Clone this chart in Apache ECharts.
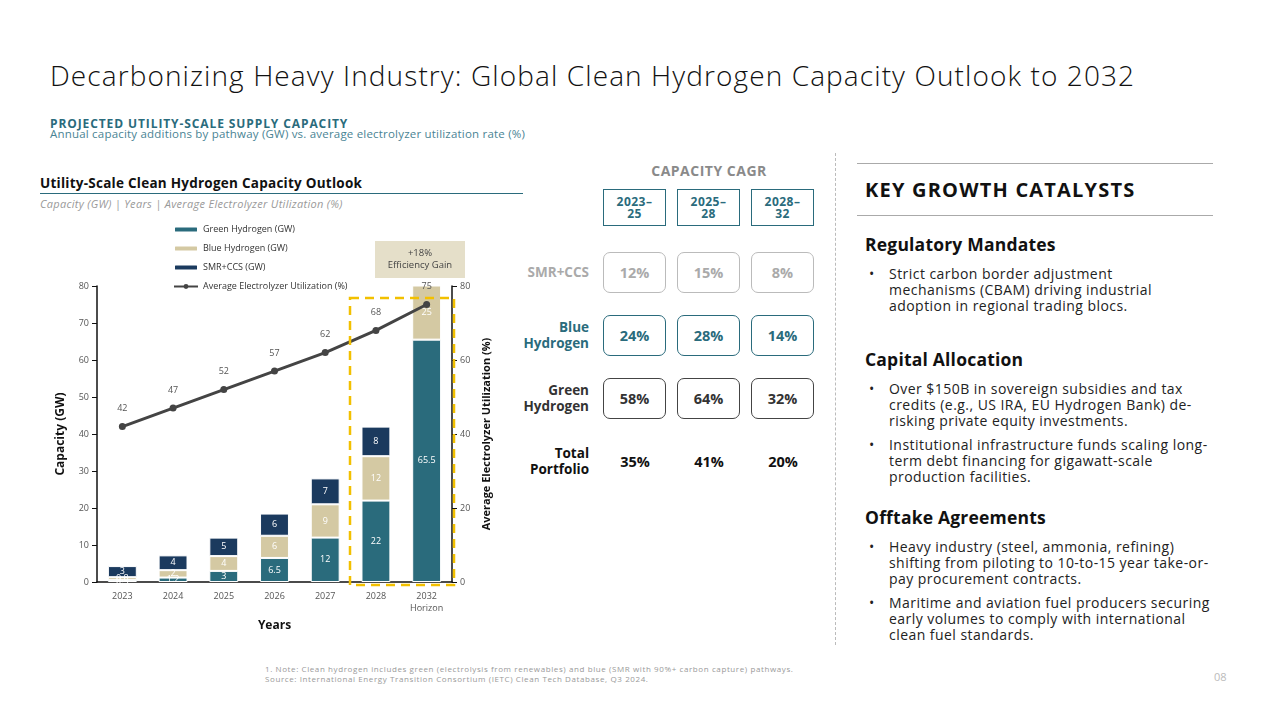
<!DOCTYPE html>
<html>
<head>
<meta charset="utf-8">
<script src="https://cdn.jsdelivr.net/npm/echarts@6/dist/echarts.min.js"></script>
<style>
  body { margin: 0; width: 1280px; height: 720px; background: #fff; font-family: 'Open Sans', Lato, sans-serif; position: relative; overflow: hidden; }
  .abs { position: absolute; white-space: nowrap; }
  #chart { position: absolute; left: 0; top: 0; width: 520px; height: 640px; }
  .hdr { position: absolute; width: 61px; height: 35px; border: 1.5px solid #2a6b7c; color: #2a6b7c; font-weight: 700; font-size: 12px; line-height: 12px; text-align: center; display: flex; align-items: center; justify-content: center; letter-spacing: 0.5px; }
  .cell { position: absolute; width: 61px; height: 39px; border: 1.5px solid; border-radius: 7px; font-weight: 700; font-size: 14.5px; display: flex; align-items: center; justify-content: center; }
  .rowlab { position: absolute; right: 691px; text-align: right; font-weight: 700; font-size: 13.5px; line-height: 16px; white-space: nowrap; }
  .tot { position: absolute; width: 64px; text-align: center; font-weight: 700; font-size: 14.5px; top: 452px; color: #111; }
  .h2 { position: absolute; left: 865px; font-size: 17.5px; font-weight: 700; color: #111; white-space: nowrap; letter-spacing: 0.2px; }
  .bul { position: absolute; left: 869px; font-size: 14px; line-height: 16px; color: #222; white-space: nowrap; letter-spacing: 0.45px; }
  .bul span.dot { position: absolute; left: 0; }
  .bul div { margin-left: 20px; }
</style>
</head>
<body>
<div class="abs" style="left:50px; top:56px; font-size:28px; color:#111; font-weight:300; letter-spacing:1.1px;">Decarbonizing Heavy Industry: Global Clean Hydrogen Capacity Outlook to 2032</div>
<div class="abs" style="left:50px; top:115px; font-size:12px; font-weight:700; color:#2a6b7c; letter-spacing:0.9px;">PROJECTED UTILITY-SCALE SUPPLY CAPACITY</div>
<div class="abs" style="left:50px; top:126px; font-size:11.5px; color:#4a8494; letter-spacing:0.2px;">Annual capacity additions by pathway (GW) vs. average electrolyzer utilization rate (%)</div>

<div class="abs" style="left:40px; top:174px; font-size:13.5px; font-weight:700; color:#111; letter-spacing:0.25px;">Utility-Scale Clean Hydrogen Capacity Outlook</div>
<div class="abs" style="left:40px; top:193px; width:483px; height:1px; background:#2a6b7c;"></div>
<div class="abs" style="left:40px; top:196px; font-size:11px; font-style:italic; color:#999; letter-spacing:0.3px;">Capacity (GW) | Years | Average Electrolyzer Utilization (%)</div>

<div id="chart"></div>

<!-- CAGR table -->
<div class="abs" style="left:609px; width:200px; text-align:center; top:161px; font-size:14px; font-weight:700; color:#8a8a8a; letter-spacing:0.5px;">CAPACITY CAGR</div>
<div class="hdr" style="left:603px; top:189px;">2023–<br>25</div>
<div class="hdr" style="left:677px; top:189px;">2025–<br>28</div>
<div class="hdr" style="left:751px; top:189px;">2028–<br>32</div>

<div class="rowlab" style="top:264px; color:#aaa;">SMR+CCS</div>
<div class="cell" style="left:603px; top:252px; border-color:#bbb; color:#aaa;">12%</div>
<div class="cell" style="left:677px; top:252px; border-color:#bbb; color:#aaa;">15%</div>
<div class="cell" style="left:751px; top:252px; border-color:#bbb; color:#aaa;">8%</div>

<div class="rowlab" style="top:319px; color:#2a6b7c;">Blue<br>Hydrogen</div>
<div class="cell" style="left:603px; top:315px; border-color:#2a6b7c; color:#2a6b7c;">24%</div>
<div class="cell" style="left:677px; top:315px; border-color:#2a6b7c; color:#2a6b7c;">28%</div>
<div class="cell" style="left:751px; top:315px; border-color:#2a6b7c; color:#2a6b7c;">14%</div>

<div class="rowlab" style="top:382px; color:#333;">Green<br>Hydrogen</div>
<div class="cell" style="left:603px; top:378px; border-color:#444; color:#333;">58%</div>
<div class="cell" style="left:677px; top:378px; border-color:#444; color:#333;">64%</div>
<div class="cell" style="left:751px; top:378px; border-color:#444; color:#333;">32%</div>

<div class="rowlab" style="top:445px; color:#111;">Total<br>Portfolio</div>
<div class="tot" style="left:603px;">35%</div>
<div class="tot" style="left:677px;">41%</div>
<div class="tot" style="left:751px;">20%</div>

<div class="abs" style="left:835px; top:153px; height:492px; border-left:1px dashed #bbb;"></div>

<!-- right panel -->
<div class="abs" style="left:857px; top:163px; width:356px; height:1px; background:#aaa;"></div>
<div class="abs" style="left:865px; top:176px; font-size:20px; font-weight:700; color:#111; letter-spacing:1.2px;">KEY GROWTH CATALYSTS</div>
<div class="abs" style="left:857px; top:215px; width:356px; height:1px; background:#aaa;"></div>

<div class="h2" style="top:232px;">Regulatory Mandates</div>
<div class="bul" style="top:266px;"><span class="dot">•</span><div>Strict carbon border adjustment<br>mechanisms (CBAM) driving industrial<br>adoption in regional trading blocs.</div></div>

<div class="h2" style="top:347px;">Capital Allocation</div>
<div class="bul" style="top:381px;"><span class="dot">•</span><div>Over $150B in sovereign subsidies and tax<br>credits (e.g., US IRA, EU Hydrogen Bank) de-<br>risking private equity investments.</div></div>
<div class="bul" style="top:437px;"><span class="dot">•</span><div>Institutional infrastructure funds scaling long-<br>term debt financing for gigawatt-scale<br>production facilities.</div></div>

<div class="h2" style="top:505px;">Offtake Agreements</div>
<div class="bul" style="top:539px;"><span class="dot">•</span><div>Heavy industry (steel, ammonia, refining)<br>shifting from piloting to 10-to-15 year take-or-<br>pay procurement contracts.</div></div>
<div class="bul" style="top:595px;"><span class="dot">•</span><div>Maritime and aviation fuel producers securing<br>early volumes to comply with international<br>clean fuel standards.</div></div>

<div class="abs" style="left:265px; top:664px; font-size:8px; line-height:10px; color:#999; letter-spacing:0.6px;">1. Note: Clean hydrogen includes green (electrolysis from renewables) and blue (SMR with 90%+ carbon capture) pathways.<br>Source: International Energy Transition Consortium (IETC) Clean Tech Database, Q3 2024.</div>
<div class="abs" style="left:1214px; top:669px; font-size:11px; color:#bbb;">08</div>

<script>
const years = ['2023', '2024', '2025', '2026', '2027', '2028', '2032\nHorizon'];
const greenH2 = [0.5, 1.2, 3, 6.5, 12, 22, 65.5];
const blueH2 = [0.8, 2, 4, 6, 9, 12, 25];
const smrCcs = [3, 4, 5, 6, 7, 8, 10];
const utilization = [42, 47, 52, 57, 62, 68, 75];

const GREEN = '#2a6b7c';
const BLUE = '#d4c9a3';
const SMR = '#1b3a5e';
const FONT = "'Open Sans', Lato, sans-serif";

var chart = echarts.init(document.getElementById('chart'));

function barSeries(name, data, color) {
    return {
        name: name,
        type: 'bar',
        stack: 'cap',
        barWidth: '57%',
        data: data,
        itemStyle: { color: color, borderColor: '#fff', borderWidth: 1 },
        label: { show: true, position: 'inside', color: '#fff', fontSize: 9 }
    };
}

var option = {
    textStyle: { fontFamily: FONT },
    animation: false,
    legend: {
        orient: 'vertical',
        left: 168,
        top: 220,
        itemWidth: 24,
        itemHeight: 6,
        itemGap: 10,
        textStyle: { fontSize: 9, color: '#333' },
        data: ['Green Hydrogen (GW)', 'Blue Hydrogen (GW)', 'SMR+CCS (GW)', 'Average Electrolyzer Utilization (%)']
    },
    grid: { left: 97, right: 68, top: 286, bottom: 58 },
    xAxis: {
        type: 'category',
        data: years,
        name: 'Years',
        nameLocation: 'middle',
        nameGap: 38,
        nameTextStyle: { fontSize: 12, fontWeight: 'bold', color: '#111' },
        axisLine: { lineStyle: { color: '#111', width: 1.5 } },
        axisTick: { lineStyle: { color: '#111' } },
        axisLabel: { fontSize: 9, color: '#555', lineHeight: 12 }
    },
    yAxis: [
        {
            type: 'value',
            min: 0, max: 80, interval: 10,
            name: 'Capacity (GW)',
            nameLocation: 'middle',
            nameGap: 30,
            nameTextStyle: { fontSize: 12, fontWeight: 'bold', color: '#111' },
            splitLine: { show: false },
            axisLine: { show: true, lineStyle: { color: '#111', width: 1.5 } },
            axisTick: { show: true, lineStyle: { color: '#111' } },
            axisLabel: { fontSize: 9, color: '#555' }
        },
        {
            type: 'value',
            min: 0, max: 80, interval: 20,
            name: 'Average Electrolyzer Utilization (%)',
            nameLocation: 'middle',
            nameGap: 25,
            nameRotate: 90,
            nameTextStyle: { fontSize: 11, fontWeight: 'bold', color: '#111' },
            splitLine: { show: false },
            axisLine: { show: true, lineStyle: { color: '#111', width: 1.5 } },
            axisTick: { show: true, lineStyle: { color: '#111' } },
            axisLabel: { fontSize: 9, color: '#555' }
        }
    ],
    series: [
        barSeries('Green Hydrogen (GW)', greenH2, GREEN),
        barSeries('Blue Hydrogen (GW)', blueH2, BLUE),
        barSeries('SMR+CCS (GW)', smrCcs, SMR),
        {
            name: 'Average Electrolyzer Utilization (%)',
            type: 'line',
            yAxisIndex: 1,
            data: utilization,
            symbol: 'circle',
            symbolSize: 7,
            z: 5,
            lineStyle: { color: '#444', width: 3 },
            itemStyle: { color: '#444' },
            label: { show: true, position: 'top', distance: 10, fontSize: 9, color: '#555' }
        }
    ],
    graphic: [
        {
            type: 'rect',
            shape: { x: 350, y: 298, width: 104, height: 287 },
            style: { fill: 'none', stroke: '#f2c000', lineWidth: 2.5, lineDash: [9, 6] },
            z: 10
        },
        {
            type: 'rect',
            shape: { x: 375, y: 241, width: 90, height: 37 },
            style: { fill: '#e5dfc9' }
        },
        {
            type: 'text',
            x: 420, y: 259,
            style: { text: '+18%\nEfficiency Gain', fill: '#444', fontSize: 9.5, align: 'center', verticalAlign: 'middle', lineHeight: 12, fontFamily: FONT }
        }
    ]
};
chart.setOption(option);
</script>
</body>
</html>
